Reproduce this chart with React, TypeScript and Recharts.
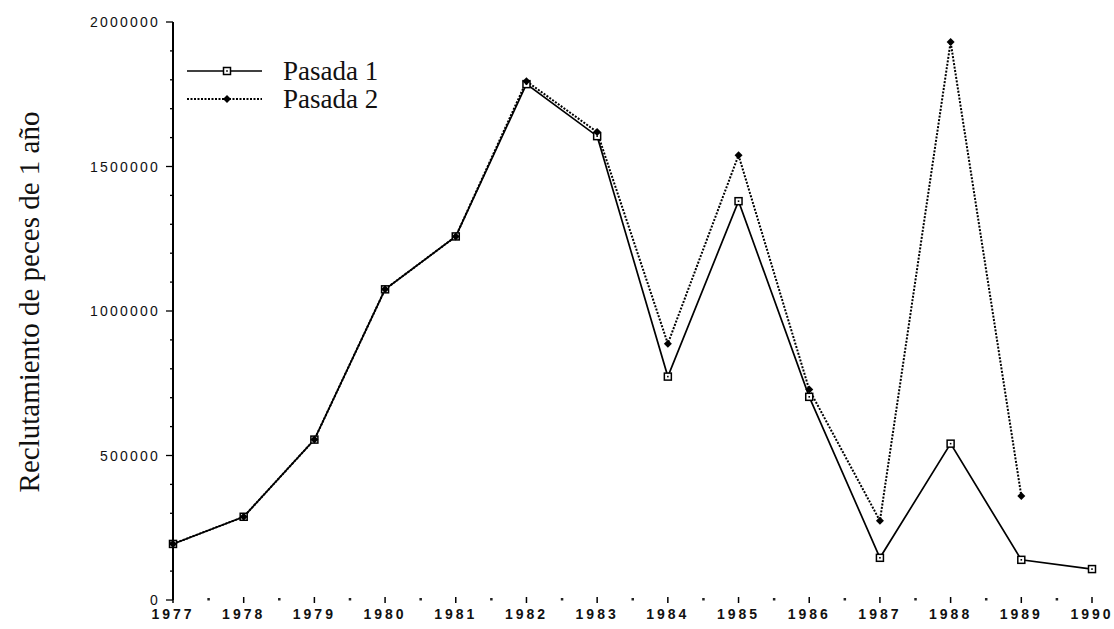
import { LineChart, Line, XAxis, YAxis } from "recharts";

const years = [1977, 1978, 1979, 1980, 1981, 1982, 1983, 1984, 1985, 1986, 1987, 1988, 1989, 1990];
const pasada1 = [194000, 288000, 555000, 1075000, 1258000, 1785000, 1605000, 773000, 1380000, 703000, 146000, 541000, 139000, 107000];
const pasada2 = [194000, 288000, 555000, 1075000, 1258000, 1795000, 1619000, 887000, 1539000, 728000, 274000, 1931000, 360000, null];
const yTicks = [0, 100000, 200000, 300000, 400000, 500000, 600000, 700000, 800000, 900000, 1000000, 1100000, 1200000, 1300000, 1400000, 1500000, 1600000, 1700000, 1800000, 1900000, 2000000];
const seriesNames = ["Pasada 1", "Pasada 2"];
const yLabel = "Reclutamiento de peces de 1 año";

const data = years.map((y, i) => ({ year: y, p1: pasada1[i], p2: pasada2[i] }));
const xTicks = years.flatMap((y, i) => (i < years.length - 1 ? [y, y + 0.5] : [y]));

const SquareDot = (props: any) => {
  const { cx, cy } = props;
  if (cx == null || cy == null) return null;
  return (
    <g>
      <rect x={cx - 3.5} y={cy - 3.5} width={7} height={7} fill="#fff" stroke="#000" strokeWidth={1.5} />
      <rect x={cx - 0.8} y={cy - 0.8} width={1.6} height={1.6} fill="#000" />
    </g>
  );
};

const DiamondDot = (props: any) => {
  const { cx, cy } = props;
  if (cx == null || cy == null) return null;
  return <path d={`M${cx} ${cy - 4}L${cx + 4} ${cy}L${cx} ${cy + 4}L${cx - 4} ${cy}Z`} fill="#000" />;
};

const YTick = (props: any) => {
  const { x, y, payload } = props;
  const major = payload.value % 500000 === 0;
  return (
    <g>
      <line x1={major ? x - 7 : x - 3} x2={x} y1={y} y2={y} stroke="#000" strokeWidth={1.3} />
      {major && (
        <text x={x - 13} y={y} dy={5} textAnchor="end" fontFamily="Liberation Sans, Arial, sans-serif" fontSize={14} letterSpacing={2.2} fill="#111">
          {payload.value}
        </text>
      )}
    </g>
  );
};

const XTick = (props: any) => {
  const { x, y, payload } = props;
  if (!Number.isInteger(payload.value)) {
    return <rect x={x - 1} y={y - 2} width={2.5} height={2.5} fill="#222" />;
  }
  return (
    <g>
      <line x1={x} x2={x} y1={y - 3} y2={y + 3} stroke="#000" strokeWidth={1.5} />
      <text x={x} y={y + 19} textAnchor="middle" fontFamily="Liberation Sans, Arial, sans-serif" fontWeight="bold" fontSize={14} letterSpacing={3} fill="#111">
        {payload.value}
      </text>
    </g>
  );
};

const LegendBox = () => (
  <svg width={240} height={70} style={{ position: "absolute", left: 185, top: 57 }}>
    <line x1={2} x2={77} y1={14} y2={14} stroke="#000" strokeWidth={1.5} />
    <SquareDot cx={42} cy={14} />
    <text x={98} y={23} fontFamily="Liberation Serif, Times New Roman, serif" fontSize={27} fill="#111">
      {seriesNames[0]}
    </text>
    <line x1={2} x2={77} y1={42} y2={42} stroke="#000" strokeWidth={2} strokeDasharray="2 1.5" />
    <DiamondDot cx={42} cy={42} />
    <text x={98} y={51} fontFamily="Liberation Serif, Times New Roman, serif" fontSize={27} fill="#111">
      {seriesNames[1]}
    </text>
  </svg>
);

const YAxisTitle = (props: any) => {
  const { viewBox } = props;
  const cy = viewBox.y + viewBox.height / 2 - 9;
  const cx = 39;
  return (
    <text x={cx} y={cy} transform={`rotate(-90 ${cx} ${cy})`} textAnchor="middle" fontFamily="Liberation Serif, Times New Roman, serif" fontSize={29} fill="#111">
      {yLabel}
    </text>
  );
};

export default function App() {
  return (
    <div style={{ position: "absolute", left: 0, top: 0, width: 1114, height: 629, background: "#fff" }}>
      <LineChart width={1114} height={629} data={data} margin={{ top: 22, right: 22, bottom: 0, left: 0 }}>
        <XAxis
          dataKey="year"
          type="number"
          domain={[1977, 1990]}
          ticks={xTicks}
          interval={0}
          axisLine={false}
          tickLine={false}
          tickSize={0}
          tickMargin={0}
          height={29}
          tick={<XTick />}
        />
        <YAxis
          type="number"
          domain={[0, 2000000]}
          ticks={yTicks}
          interval={0}
          width={173}
          axisLine={{ stroke: "#000", strokeWidth: 2 }}
          tickLine={false}
          tickSize={0}
          tickMargin={0}
          tick={<YTick />}
          label={{ content: <YAxisTitle /> }}
        />
        <Line dataKey="p1" name={seriesNames[0]} stroke="#000" strokeWidth={1.7} dot={<SquareDot />} isAnimationActive={false} />
        <Line dataKey="p2" name={seriesNames[1]} stroke="#000" strokeWidth={2} strokeDasharray="2 1.5" dot={<DiamondDot />} connectNulls={false} isAnimationActive={false} />
      </LineChart>
      <LegendBox />
    </div>
  );
}
